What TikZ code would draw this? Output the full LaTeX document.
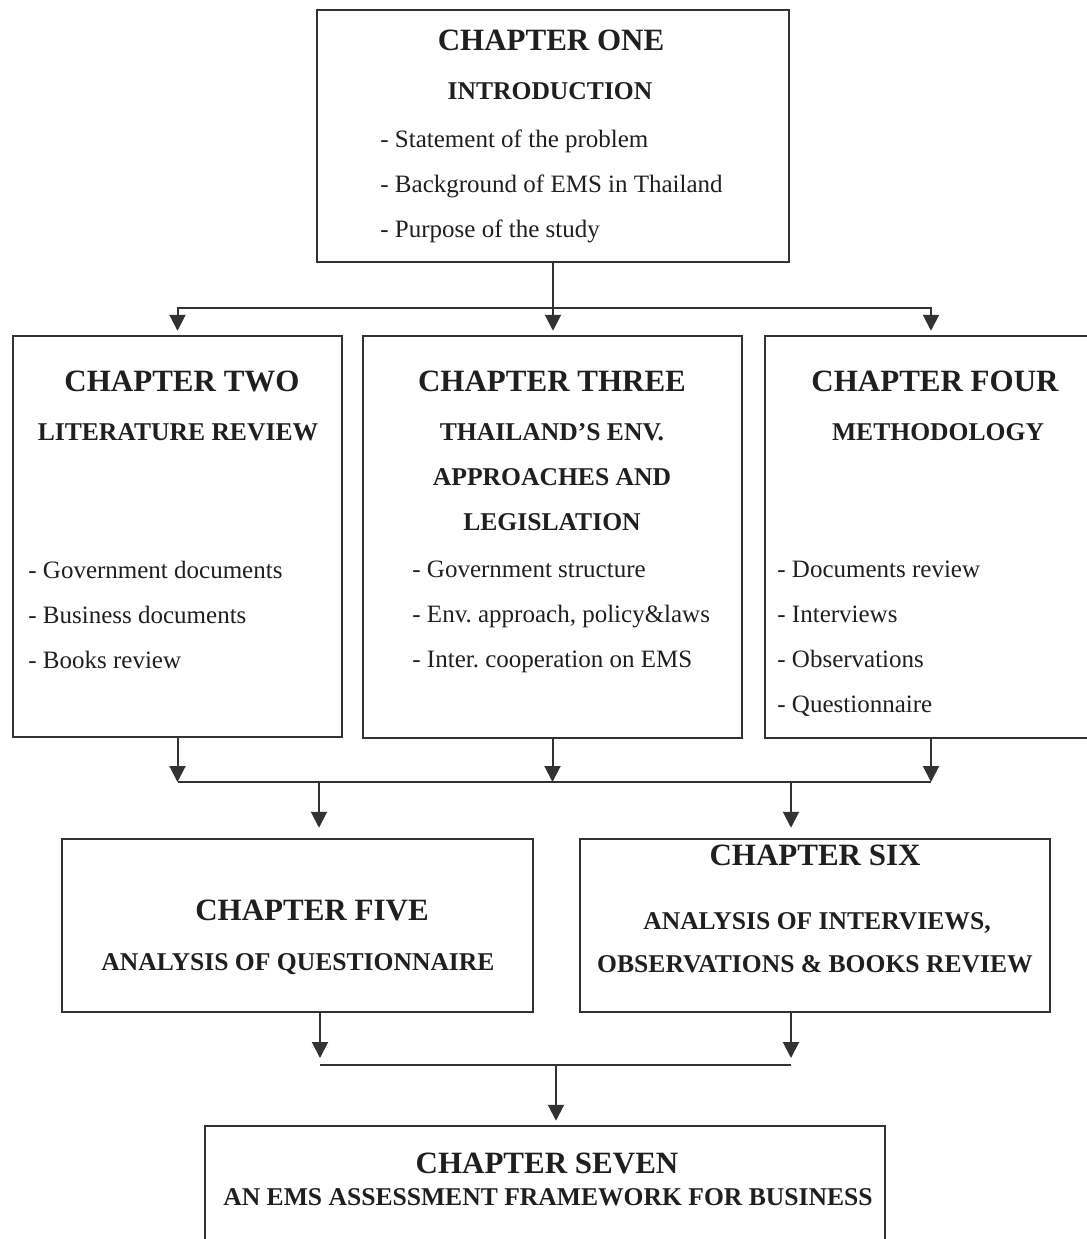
\documentclass[tikz,border=0pt]{standalone}
\usepackage{fontspec}
\setmainfont{Liberation Serif}
\usetikzlibrary{arrows.meta, positioning, calc}
\definecolor{inkgray}{RGB}{50,50,50}
\frenchspacing

\begin{document}
\begin{tikzpicture}[x=0.5pt, y=-0.5pt,
  chapbox/.style={draw=inkgray, line width=1.25pt, inner sep=0pt},
  head/.style={inner sep=0pt, anchor=base, text=black!88, font=\fontsize{15.5}{18}\selectfont\bfseries},
  sub/.style={inner sep=0pt, anchor=base, text=black!88, font=\fontsize{12.8}{15}\selectfont\bfseries},
  item/.style={inner sep=0pt, anchor=base west, text=black!88, font=\fontsize{12.5}{15}\selectfont},
  link/.style={draw=inkgray, line width=1pt},
  arr/.style={link, -{Triangle[width=8pt,length=8pt]}}]
  \useasboundingbox (0,0) rectangle (1087,1239);
  \clip (0,0) rectangle (1087,1239);

  \node[chapbox, minimum width=236pt, minimum height=126pt] (one) at (553,136) {};
  \node[chapbox, minimum width=164.5pt, minimum height=200.5pt] (two) at (177.5,536.5) {};
  \node[chapbox, minimum width=189.5pt, minimum height=201pt] (three) at (552.5,537) {};
  \node[chapbox, minimum width=166pt, minimum height=201pt] (four) at (931,537) {};
  \node[chapbox, minimum width=235.5pt, minimum height=86.5pt] (five) at (297.5,925.5) {};
  \node[chapbox, minimum width=235pt, minimum height=86.5pt] (six) at (815,925.5) {};
  \node[chapbox, minimum width=340pt, minimum height=87pt] (seven) at (545,1213) {};

  \node[head] (h1) at (551,50) {CHAPTER ONE};
  \node[sub] (s1) at (550,99) {INTRODUCTION};
  \node[item] (i1a) at (380,147) {- Statement of the problem};
  \node[item] (i1b) at (380,192) {- Background of EMS in Thailand};
  \node[item] (i1c) at (380,237) {- Purpose of the study};

  \node[head] (h2) at (182,391) {CHAPTER TWO};
  \node[sub] (s2) at (178,440) {LITERATURE REVIEW};
  \node[item] (i2a) at (28,578) {- Government documents};
  \node[item] (i2b) at (28,623) {- Business documents};
  \node[item] (i2c) at (28,668) {- Books review};

  \node[head] (h3) at (552,391) {CHAPTER THREE};
  \node[sub] (s3a) at (552,440) {THAILAND’S ENV.};
  \node[sub] (s3b) at (552,485) {APPROACHES AND};
  \node[sub] (s3c) at (552,530) {LEGISLATION};
  \node[item] (i3a) at (412,577) {- Government structure};
  \node[item] (i3b) at (412,622) {- Env. approach, policy\&laws};
  \node[item] (i3c) at (412,667) {- Inter. cooperation on EMS};

  \node[head] (h4) at (935,391) {CHAPTER FOUR};
  \node[sub] (s4) at (938,440) {METHODOLOGY};
  \node[item] (i4a) at (777,577) {- Documents review};
  \node[item] (i4b) at (777,622) {- Interviews};
  \node[item] (i4c) at (777,667) {- Observations};
  \node[item] (i4d) at (777,712) {- Questionnaire};

  \node[head] (h5) at (312,920) {CHAPTER FIVE};
  \node[sub] (s5) at (298,970) {ANALYSIS OF QUESTIONNAIRE};

  \node[head] (h6) at (815,865) {CHAPTER SIX};
  \node[sub] (s6a) at (817,929) {ANALYSIS OF INTERVIEWS,};
  \node[sub] (s6b) at (815,972) {OBSERVATIONS \& BOOKS REVIEW};

  \node[head] (h7) at (547,1173) {CHAPTER SEVEN};
  \node[sub] (s7) at (548,1205) {AN EMS ASSESSMENT FRAMEWORK FOR BUSINESS};

  \coordinate (split1) at (553,308);
  \draw[link] (one.south) -- (split1);
  \draw[arr, shorten >=2pt] (split1) -| (two.north);
  \draw[arr, shorten >=2pt] (split1) -- (split1 |- three.north);
  \draw[arr, shorten >=2pt] (split1) -| (four.north);

  \coordinate (merge2) at (555,782);
  \draw[arr] (two.south) -- (two.south |- merge2);
  \draw[arr] (three.south) -- (three.south |- merge2);
  \draw[arr] (four.south) -- (four.south |- merge2);
  \draw[link] (two.south |- merge2) -- (four.south |- merge2);
  \coordinate (drop5) at (319,782);
  \coordinate (drop6) at (791,782);
  \draw[arr, shorten >=5pt] (drop5) -- (drop5 |- five.north);
  \draw[arr, shorten >=5pt] (drop6) -- (drop6 |- six.north);

  \coordinate (join5) at (320,1065);
  \coordinate (join6) at (791,1065);
  \coordinate (merge3) at (556,1065);
  \draw[arr, shorten >=3.5pt] (join5 |- five.south) -- (join5);
  \draw[arr, shorten >=3.5pt] (join6 |- six.south) -- (join6);
  \draw[link] (join5) -- (join6);
  \draw[arr, shorten >=2pt] (merge3) -- (merge3 |- seven.north);
\end{tikzpicture}
\end{document}
